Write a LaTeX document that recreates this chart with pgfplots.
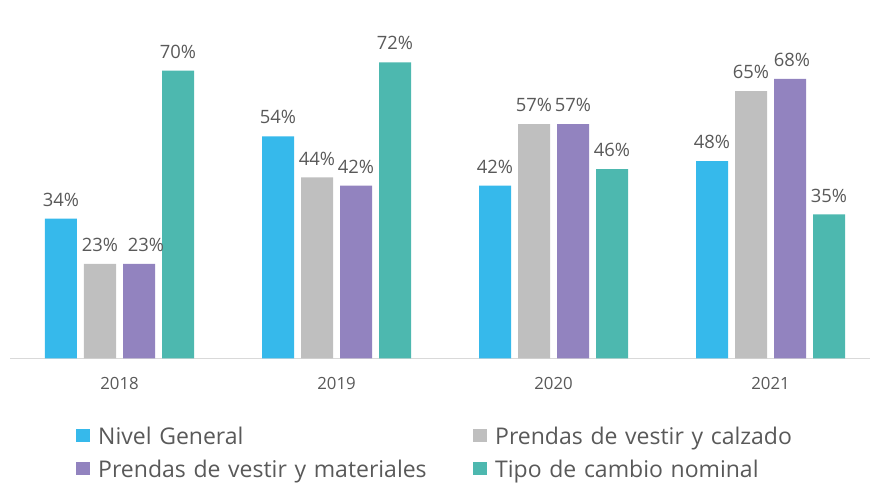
\documentclass[border=0pt]{standalone}
\usepackage{fontspec}
\setmainfont{Open Sans}
\usepackage{pgfplots}
\pgfplotsset{compat=1.18}
\definecolor{cBlue}{HTML}{36B9EB}
\definecolor{cGray}{HTML}{BFBFBF}
\definecolor{cPurple}{HTML}{9283BF}
\definecolor{cTeal}{HTML}{4DB8AF}
\definecolor{txt}{HTML}{595959}
\definecolor{axl}{HTML}{D9D9D9}
\begin{document}
\begin{tikzpicture}[x=1pt,y=1pt]
\useasboundingbox (-10,-125.7) rectangle (861,358.3);
\begin{axis}[
  at={(0,0)}, anchor=south west,
  scale only axis, width=860pt, height=328.8pt,
  xmin=-0.5046, xmax=3.4585, ymin=0, ymax=80,
  ybar=7pt, bar width=32pt,
  axis y line=none, axis x line*=bottom,
  x axis line style={draw=axl, line width=1pt, -},
  xtick={0,1,2,3}, xticklabels={2018,2019,2020,2021},
  major tick length=0pt,
  xticklabel style={font=\fontsize{16.8}{18}\selectfont, text=txt, anchor=base, yshift=-31pt, inner sep=0pt},
  /pgf/number format/assume math mode=true,
  clip=false,
  nodes near coords={\pgfmathprintnumber{\pgfplotspointmeta}\%},
  every node near coord/.append style={font=\fontsize{18.4}{20}\selectfont, text=txt, anchor=base, yshift=12.4pt, inner sep=0pt},
  legend columns=2,
  legend image code/.code={\fill[#1] (0pt,-2.5pt) rectangle (14pt,10.5pt);},
  legend style={at={(rel axis cs:0,0)}, anchor=north west, xshift=66pt, yshift=-70.5pt,
    draw=none, fill=none, inner sep=0pt, row sep=13pt,
    font=\fontsize{23}{26}\selectfont, text=txt,
    nodes={text width=340pt, align=left, text height=15pt, text depth=5pt, inner sep=0pt},
    /tikz/every odd column/.append style={column sep=8pt},
    /tikz/every even column/.append style={column sep=35pt}},
]
\addplot[fill=cBlue, draw=none] coordinates {(0,34) (1,54) (2,42) (3,48)};
\addplot[fill=cGray, draw=none] coordinates {(0,23) (1,44) (2,57) (3,65)};
\addplot[fill=cPurple, draw=none, visualization depends on={\thisrow{s}\as\sh},
  every node near coord/.append style={xshift=\sh pt}] table[x=x,y=y] {
x y s
0 23 7
1 42 0
2 57 0
3 68 2
};
\addplot[fill=cTeal, draw=none] coordinates {(0,70) (1,72) (2,46) (3,35)};
\legend{Nivel General, Prendas de vestir y calzado, Prendas de vestir y materiales, Tipo de cambio nominal}
\end{axis}
\end{tikzpicture}
\end{document}
